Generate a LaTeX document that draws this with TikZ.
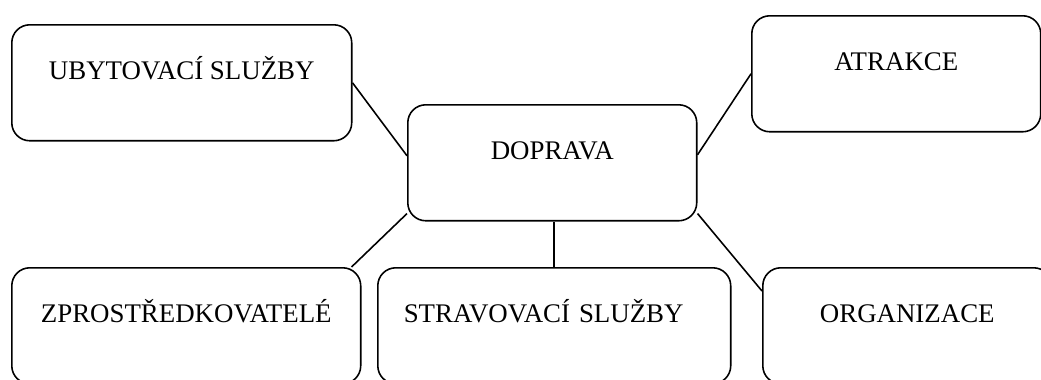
\documentclass[tikz,border=0pt]{standalone}
\usepackage{fontspec}
\setmainfont{Liberation Serif}
\usetikzlibrary{calc}
\begin{document}
\begin{tikzpicture}[x=0.02cm,y=-0.02cm,
  box/.style={draw,line width=0.9pt,rounded corners=0.36cm,anchor=north west,
    inner xsep=0pt,inner ysep=0pt,text height=1.1cm,text depth=1.22cm,
    font=\fontsize{15.3}{18}\selectfont},
  link/.style={line width=0.9pt}]
\useasboundingbox (0,0) rectangle (1041,379);
\clip (0,0) rectangle (1041,379);
\node[box,minimum width=6.8cm] (ub) at (11,24) {UBYTOVACÍ SLUŽBY};
\node[box,minimum width=5.78cm] (dop) at (407,104) {DOPRAVA};
\node[box,minimum width=5.78cm] (at) at (751,15) {ATRAKCE};
\node[box,minimum width=6.98cm] (zp) at (11,267) {ZPROSTŘEDKOVATELÉ};
\node[box,inner xsep=0.52cm,text width=6.02cm,align=left] (st) at (377,267) {STRAVOVACÍ SLUŽBY};
\node[box,minimum width=5.78cm] (org) at (762,267) {ORGANIZACE};
\draw[link] (ub.east) -- ($(dop.west)+(0,-7)$);
\draw[link] ($(dop.east)+(0,-8)$) -- (at.west);
\draw[link] ($(dop.south west)+(0,-8)$) -- ($(zp.north east)+(-10,0)$);
\draw[link] (st.north) -- (st.north |- dop.south);
\draw[link] ($(dop.south east)+(0,-8)$) -- ($(org.north west)+(0,24)$);
\end{tikzpicture}
\end{document}
